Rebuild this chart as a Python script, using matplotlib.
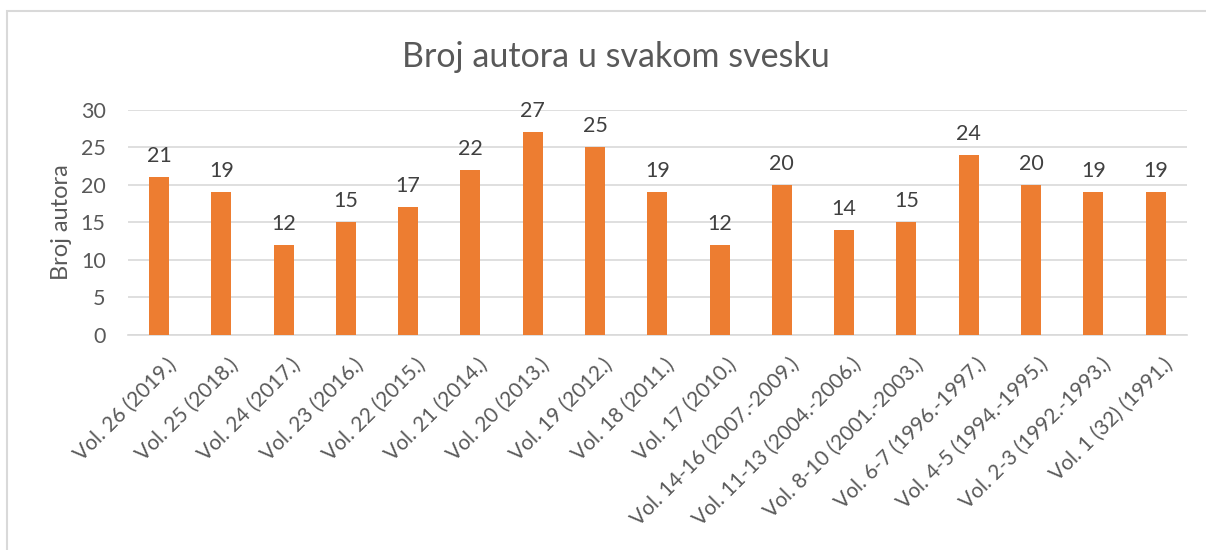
import matplotlib
matplotlib.use("Agg")
import matplotlib.pyplot as plt
from matplotlib.patches import Rectangle

categories = [
    "Vol. 26 (2019.)", "Vol. 25 (2018.)", "Vol. 24 (2017.)", "Vol. 23 (2016.)",
    "Vol. 22 (2015.)", "Vol. 21 (2014.)", "Vol. 20 (2013.)", "Vol. 19 (2012.)",
    "Vol. 18 (2011.)", "Vol. 17 (2010.)", "Vol. 14-16 (2007.-2009.)",
    "Vol. 11-13 (2004.-2006.)", "Vol. 8-10 (2001.-2003.)", "Vol. 6-7 (1996.-1997.)",
    "Vol. 4-5 (1994.-1995.)", "Vol. 2-3 (1992.-1993.)", "Vol. 1 (32) (1991.)",
]
authors = [21, 19, 12, 15, 17, 22, 27, 25, 19, 12, 20, 14, 15, 24, 20, 19, 19]
y_ticks = [0, 5, 10, 15, 20, 25, 30]

BAR = "#ED7D31"
TEXT = "#595959"
GRID = "#D9D9D9"

plt.rcParams["font.family"] = ["Lato", "DejaVu Sans"]

fig = plt.figure(figsize=(12.06, 5.5), dpi=100)
ax = fig.add_axes([0.106, 0.391, 0.878, 0.409])

# chart frame (Excel-style outline)
fig.patches.append(Rectangle((7 / 1206, -0.1), 1.2, 1 - 11 / 550 + 0.1,
                             transform=fig.transFigure, fill=False,
                             edgecolor=GRID, linewidth=1.5))

x = list(range(len(categories)))
bars = ax.bar(x, authors, width=0.32, color=BAR, zorder=3)
for b, v in zip(bars, authors):
    ax.text(b.get_x() + b.get_width() / 2, v + 1.5, str(v), ha="center",
            va="bottom", fontsize=15.5, color="#404040")

ax.set_xlim(-0.5, len(categories) - 0.5)
ax.set_ylim(0, 30)
ax.set_yticks(y_ticks)
ax.yaxis.grid(True, color=GRID, linewidth=1.2, zorder=0)

# category labels: Excel puts the label's end a bit right of the bar centre
ax.set_xticks(x)
ax.set_xticklabels([])
for i, cat in zip(x, categories):
    ax.annotate(cat, xy=(i, 0), xycoords=ax.get_xaxis_transform(),
                xytext=(5, -14), textcoords="offset points", rotation=45,
                ha="right", va="top", rotation_mode="anchor",
                fontsize=15, color=TEXT)

ax.tick_params(axis="y", labelsize=15.5, labelcolor=TEXT, length=0, pad=16)
ax.tick_params(axis="x", length=0)
for s in ["top", "right", "left"]:
    ax.spines[s].set_visible(False)
ax.spines["bottom"].set_color(GRID)
ax.spines["bottom"].set_linewidth(1.2)

ax.set_ylabel("Broj autora", fontsize=17, color=TEXT, labelpad=6)
fig.text(0.511, 0.897, "Broj autora u svakom svesku", ha="center", va="center",
         fontsize=24.5, color=TEXT)

fig.savefig("out.png", dpi=100, facecolor="white")
